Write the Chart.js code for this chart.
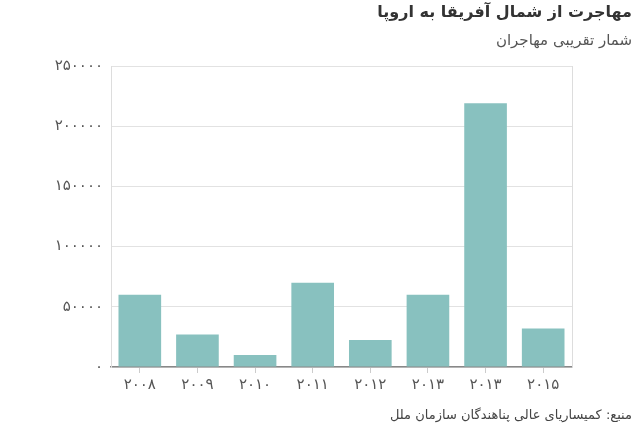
<!DOCTYPE html>
<html>
<head>
<meta charset="utf-8">
<script src="https://cdn.jsdelivr.net/npm/chart.js@4/dist/chart.umd.min.js"></script>
<style>
html,body{margin:0;padding:0;background:#fff;}
#wrap{position:relative;width:640px;height:433px;overflow:hidden;font-family:'DejaVu Sans',sans-serif;}
canvas{position:absolute;left:0;top:0;}
.t{position:absolute;right:8px;direction:rtl;white-space:nowrap;}
#title{top:2px;font-size:16px;font-weight:bold;color:#333;}
#sub{top:31px;font-size:15px;color:#555;}
#src{top:407px;font-size:13px;color:#444;}
</style>
</head>
<body>
<div id="wrap">
<canvas id="c" width="640" height="433"></canvas>
<div class="t" id="title">مهاجرت از شمال آفریقا به اروپا</div>
<div class="t" id="sub">شمار تقریبی مهاجران</div>
<div class="t" id="src">منبع: کمیساریای عالی پناهندگان سازمان ملل</div>
</div>
<script>
const categories = ['۲۰۰۸','۲۰۰۹','۲۰۱۰','۲۰۱۱','۲۰۱۲','۲۰۱۳','۲۰۱۳','۲۰۱۵'];
const migrants = [60000, 27000, 10000, 70000, 22500, 60000, 219000, 32000];
const yTicks = [0, 50000, 100000, 150000, 200000, 250000];

const faDigits = '۰۱۲۳۴۵۶۷۸۹';
function toFa(n){ return String(n).replace(/\d/g, d => faDigits[+d]); }

new Chart(document.getElementById('c'), {
  type: 'bar',
  data: {
    labels: categories,
    datasets: [{
      data: migrants,
      backgroundColor: '#88c1bf',
      borderWidth: 0,
      categoryPercentage: 1,
      barPercentage: 0.74
    }]
  },
  options: {
    responsive: false,
    animation: false,
    devicePixelRatio: 1,
    layout: { padding: { top: 66, right: 68, bottom: 36, left: 0 } },
    plugins: { legend: { display: false }, tooltip: { enabled: false } },
    scales: {
      x: {
        grid: { offset: false, drawOnChartArea: false, drawTicks: true, tickLength: 6, color: '#ccc' },
        border: { display: true, color: '#888', width: 1.5 },
        ticks: { color: '#555', font: { family: "'DejaVu Sans', sans-serif", size: 15 }, padding: 3, maxRotation: 0 },
        afterFit: s => { s.height = 30; }
      },
      y: {
        min: 0, max: 250000,
        afterBuildTicks: s => { s.ticks = yTicks.map(v => ({ value: v })); },
        grid: { drawTicks: false, color: '#e2e2e2' },
        border: { display: true, color: '#ddd' },
        ticks: { color: '#555', font: { family: "'DejaVu Sans', sans-serif", size: 15 }, padding: 8, callback: v => toFa(v) },
        afterFit: s => { s.width = 111; }
      },
      y2: {
        position: 'right',
        min: 0, max: 250000,
        grid: { drawOnChartArea: false, drawTicks: false },
        border: { display: true, color: '#ddd' },
        ticks: { display: false },
        afterFit: s => { s.width = 0; }
      }
    }
  }
});
</script>
</body>
</html>
